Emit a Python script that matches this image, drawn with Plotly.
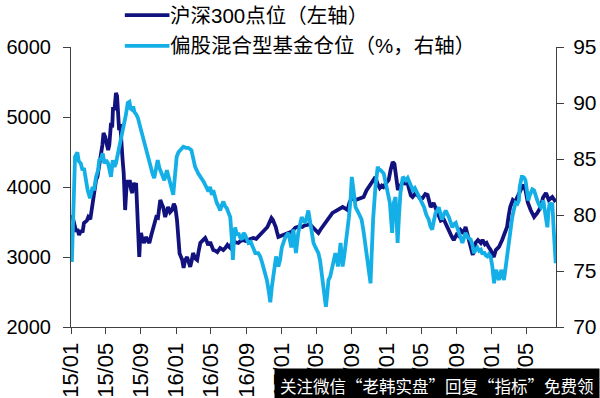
import plotly.graph_objects as go

csi_dates = ["2015-01-05","2015-01-09","2015-01-13","2015-01-19","2015-01-23","2015-01-29","2015-02-05","2015-02-10","2015-02-15","2015-02-25",
"2015-03-02","2015-03-09","2015-03-13","2015-03-18","2015-03-24","2015-03-29","2015-04-03","2015-04-09","2015-04-15","2015-04-20",
"2015-04-24","2015-04-30","2015-05-06","2015-05-10","2015-05-14","2015-05-20","2015-05-24","2015-05-27","2015-06-01","2015-06-06",
"2015-06-10","2015-06-13","2015-06-17","2015-06-21","2015-06-24","2015-06-29","2015-07-03","2015-07-08","2015-07-12","2015-07-16",
"2015-07-20","2015-07-24","2015-07-29","2015-08-02","2015-08-05","2015-08-10","2015-08-15","2015-08-19","2015-08-22","2015-08-26",
"2015-08-29","2015-09-01","2015-09-06","2015-09-12","2015-09-18","2015-09-24","2015-09-30","2015-10-06","2015-10-13","2015-10-18",
"2015-10-24","2015-10-30","2015-11-03","2015-11-07","2015-11-12","2015-11-17","2015-11-24","2015-11-30","2015-12-04","2015-12-11",
"2015-12-18","2015-12-24","2015-12-29","2016-01-04","2016-01-08","2016-01-13","2016-01-18","2016-01-22","2016-01-27","2016-02-01",
"2016-02-08","2016-02-14","2016-02-19","2016-02-24","2016-02-29","2016-03-07","2016-03-14","2016-03-20","2016-03-25","2016-04-01",
"2016-04-11","2016-04-16","2016-04-21","2016-04-28","2016-05-04","2016-05-09","2016-05-16","2016-05-23","2016-06-02","2016-06-08",
"2016-06-13","2016-06-20","2016-06-27","2016-07-01","2016-07-07","2016-07-12","2016-07-17","2016-07-25","2016-08-04","2016-08-12",
"2016-08-21","2016-08-29","2016-09-08","2016-09-16","2016-09-25","2016-10-05","2016-10-12","2016-10-20","2016-10-26","2016-11-04",
"2016-11-13","2016-11-20","2016-11-27","2016-12-02","2016-12-08","2016-12-12","2016-12-16","2016-12-21","2016-12-29","2017-01-07",
"2017-01-15","2017-01-25","2017-02-04","2017-02-11","2017-02-18","2017-02-25","2017-03-05","2017-03-14","2017-03-22","2017-04-01",
"2017-04-09","2017-04-18","2017-04-25","2017-05-01","2017-05-09","2017-05-16","2017-05-23","2017-06-01","2017-06-09","2017-06-18",
"2017-06-27","2017-07-05","2017-07-14","2017-07-22","2017-08-01","2017-08-11","2017-08-18","2017-08-25","2017-09-04","2017-09-15",
"2017-09-25","2017-10-05","2017-10-13","2017-10-23","2017-11-01","2017-11-08","2017-11-16","2017-11-23","2017-11-30","2017-12-08",
"2017-12-15","2017-12-21","2017-12-29","2018-01-08","2018-01-15","2018-01-22","2018-01-28","2018-02-02","2018-02-09","2018-02-14",
"2018-02-24","2018-03-05","2018-03-12","2018-03-18","2018-03-26","2018-04-01","2018-04-09","2018-04-18","2018-04-26","2018-05-06",
"2018-05-15","2018-05-23","2018-06-03","2018-06-13","2018-06-22","2018-06-30","2018-07-08","2018-07-18","2018-07-25","2018-08-05",
"2018-08-14","2018-08-22","2018-09-01","2018-09-08","2018-09-15","2018-09-25","2018-10-02","2018-10-13","2018-10-20","2018-10-27",
"2018-11-05","2018-11-14","2018-11-24","2018-11-30","2018-12-08","2018-12-14","2018-12-21","2018-12-28","2019-01-04","2019-01-08",
"2019-01-15","2019-01-26","2019-02-06","2019-02-15","2019-02-23","2019-03-01","2019-03-06","2019-03-15","2019-03-22","2019-03-28",
"2019-04-05","2019-04-14","2019-04-20","2019-04-28","2019-05-06","2019-05-16","2019-05-28","2019-06-08","2019-06-20","2019-06-28",
"2019-07-08","2019-07-18","2019-07-30","2019-08-11"]
csi_values = [3600,3520,3430,3360,3400,3314,3380,3350,3486,3520,
3571,3540,3650,3814,3950,4100,4150,4300,4430,4600,
4771,4714,4600,4529,4600,4914,4850,5143,5100,5343,
5300,5143,4814,4900,4629,4400,4200,3671,3950,4100,
4000,4100,3957,3914,4057,4000,4057,3700,3386,3000,
3250,3343,3250,3200,3286,3250,3200,3300,3429,3500,
3571,3560,3700,3814,3760,3714,3571,3650,3714,3640,
3671,3760,3714,3530,3200,3050,3000,2960,2843,2950,
3000,2930,2860,2950,3057,2980,2957,3100,3200,3230,
3271,3230,3171,3214,3150,3100,3090,3071,3129,3110,
3100,3130,3171,3150,3129,3200,3243,3210,3200,3230,
3243,3230,3243,3260,3271,3260,3286,3320,3343,3390,
3429,3480,3557,3529,3480,3429,3360,3286,3300,3314,
3330,3343,3360,3386,3420,3429,3440,3429,3450,3457,
3470,3429,3400,3386,3343,3390,3429,3480,3529,3580,
3629,3650,3671,3700,3714,3690,3671,3780,3857,3814,
3830,3840,3857,3950,4000,4057,4100,4143,4050,3986,
4020,4000,4050,4100,4250,4357,4330,4200,3957,4000,
4057,4050,4100,4000,3880,3857,3900,3886,3843,3843,
3900,3886,3714,3771,3680,3629,3520,3540,3486,3380,
3300,3243,3320,3300,3386,3343,3429,3243,3150,3029,
3200,3243,3200,3243,3180,3200,3143,3100,3029,3000,
3100,3143,3243,3330,3429,3600,3714,3814,3790,3830,
3900,4000,4030,3957,3780,3671,3571,3629,3714,3850,
3914,3814,3857,3786]

fund_dates = ["2015-01-04","2015-01-15","2015-01-23","2015-01-28","2015-02-04","2015-02-10","2015-02-15","2015-02-19","2015-02-28","2015-03-08",
"2015-03-17","2015-03-22","2015-03-29","2015-04-05","2015-04-09","2015-04-15","2015-04-21","2015-04-27","2015-05-03","2015-05-10",
"2015-05-15","2015-05-20","2015-05-26","2015-06-01","2015-06-06","2015-06-12","2015-06-18","2015-06-24","2015-06-29","2015-07-05",
"2015-07-11","2015-07-17","2015-07-23","2015-07-27","2015-08-01","2015-08-05","2015-08-09","2015-08-15","2015-08-21","2015-09-01",
"2015-09-07","2015-09-13","2015-09-19","2015-09-25","2015-10-01","2015-10-06","2015-10-12","2015-10-17","2015-10-23","2015-10-29",
"2015-11-04","2015-11-09","2015-11-14","2015-11-21","2015-11-30","2015-12-06","2015-12-11","2015-12-17","2015-12-22","2015-12-29",
"2016-01-03","2016-01-09","2016-01-15","2016-01-26","2016-02-04","2016-02-12","2016-02-23","2016-03-01","2016-03-07","2016-03-18",
"2016-03-30","2016-04-05","2016-04-11","2016-04-17","2016-04-22","2016-04-28","2016-05-04","2016-05-09","2016-05-15","2016-05-21",
"2016-05-27","2016-06-02","2016-06-08","2016-06-13","2016-06-19","2016-06-25","2016-07-01","2016-07-07","2016-07-12","2016-07-16",
"2016-07-20","2016-07-24","2016-07-30","2016-08-04","2016-08-10","2016-08-16","2016-08-22","2016-08-28","2016-09-03","2016-09-08",
"2016-09-16","2016-09-25","2016-10-02","2016-10-12","2016-10-19","2016-10-25","2016-10-30","2016-11-05","2016-11-11","2016-11-17",
"2016-11-23","2016-11-28","2016-12-04","2016-12-09","2016-12-13","2016-12-21","2016-12-27","2017-01-02","2017-01-08","2017-01-14",
"2017-01-25","2017-02-04","2017-02-11","2017-02-16","2017-02-20","2017-02-28","2017-03-06","2017-03-12","2017-03-18","2017-03-25",
"2017-04-04","2017-04-10","2017-04-16","2017-04-22","2017-04-29","2017-05-09","2017-05-15","2017-05-21","2017-05-28","2017-06-04",
"2017-06-09","2017-06-13","2017-06-19","2017-06-25","2017-07-01","2017-07-07","2017-07-12","2017-07-16","2017-07-25","2017-08-01",
"2017-08-06","2017-08-11","2017-08-17","2017-08-23","2017-08-29","2017-09-02","2017-09-08","2017-09-15","2017-09-25","2017-10-06",
"2017-10-13","2017-10-20","2017-10-30","2017-11-06","2017-11-10","2017-11-15","2017-11-23","2017-12-01","2017-12-06","2017-12-11",
"2017-12-22","2017-12-28","2018-01-03","2018-01-12","2018-01-20","2018-01-26","2018-02-01","2018-02-08","2018-02-13","2018-02-18",
"2018-02-26","2018-03-04","2018-03-09","2018-03-15","2018-03-21","2018-04-02","2018-04-09","2018-04-16","2018-04-22","2018-04-29",
"2018-05-05","2018-05-11","2018-05-19","2018-05-27","2018-06-02","2018-06-08","2018-06-14","2018-06-20","2018-06-26","2018-07-01",
"2018-07-06","2018-07-12","2018-07-18","2018-07-25","2018-08-05","2018-08-11","2018-08-17","2018-08-23","2018-08-29","2018-09-04",
"2018-09-09","2018-09-15","2018-09-21","2018-09-27","2018-10-02","2018-10-10","2018-10-20","2018-10-26","2018-10-31","2018-11-06",
"2018-11-12","2018-11-18","2018-11-24","2018-11-30","2018-12-05","2018-12-11","2018-12-17","2018-12-22","2018-12-28","2019-01-03",
"2019-01-09","2019-01-13","2019-01-17","2019-01-21","2019-01-26","2019-01-31","2019-02-04","2019-02-08","2019-02-12","2019-02-16",
"2019-02-20","2019-02-25","2019-03-01","2019-03-07","2019-03-13","2019-03-19","2019-03-25","2019-03-31","2019-04-05","2019-04-08",
"2019-04-11","2019-04-15","2019-04-19","2019-04-24","2019-04-28","2019-05-03","2019-05-08","2019-05-12","2019-05-16","2019-05-22",
"2019-05-28","2019-06-03","2019-06-08","2019-06-14","2019-06-20","2019-06-25","2019-06-29","2019-07-04","2019-07-08","2019-07-13",
"2019-07-17","2019-07-21","2019-07-26","2019-07-30","2019-08-04","2019-08-08","2019-08-11"]
fund_values = [75.8,85.2,85.6,84.8,84.6,84.0,84.2,83.4,82.2,81.5,
82.5,82.2,83.4,84.0,84.9,85.0,85.5,84.6,84.9,84.6,
84.0,83.4,84.9,84.3,84.6,85.3,86.1,86.7,87.5,88.2,
89.0,90.0,90.1,89.5,89.4,89.7,89.2,89.0,88.7,87.6,
87.0,86.5,86.0,85.4,84.6,84.0,83.6,83.3,84.2,84.9,
84.2,83.8,83.4,83.1,84.0,83.5,82.9,82.3,81.8,83.8,
85.2,85.6,85.8,86.1,86.0,86.0,85.8,85.0,84.3,83.7,
83.3,83.0,82.7,82.4,82.1,82.5,81.8,82.2,81.5,81.1,
80.8,80.4,80.9,81.2,80.8,80.6,80.2,79.8,78.0,76.0,
77.8,78.9,78.2,78.4,78.0,77.8,78.4,78.2,77.8,77.5,
77.6,77.1,76.6,76.6,76.3,75.8,75.4,74.9,74.2,73.3,
72.2,73.5,74.8,75.6,76.3,75.4,76.0,77.1,77.5,78.0,
78.4,77.1,78.7,77.5,76.6,78.4,79.0,79.8,79.5,79.3,
80.4,79.3,78.0,77.5,77.1,76.6,75.9,74.8,73.5,71.8,
73.0,74.2,74.5,75.1,75.8,76.6,76.0,75.4,77.5,75.4,
76.2,77.1,78.4,79.8,81.5,83.4,82.2,80.7,80.2,79.6,
78.5,77.1,75.4,73.9,76.5,79.6,82.5,84.3,84.0,84.0,
83.7,83.0,82.5,81.1,78.4,81.1,81.6,77.5,80.0,82.0,
83.4,83.2,83.1,83.3,82.9,82.2,82.4,82.0,81.6,81.3,
81.0,80.7,80.0,79.6,79.0,78.7,79.5,80.2,80.4,80.7,
80.2,79.6,80.0,80.4,79.8,79.3,78.9,79.2,79.3,78.8,
78.4,77.9,77.5,78.0,78.4,78.0,77.8,77.3,76.6,76.9,
77.1,76.8,76.9,76.5,76.7,76.4,76.3,76.5,76.3,75.4,
73.9,74.8,75.1,74.5,74.2,74.8,75.1,74.6,74.2,74.9,
75.7,76.8,78.0,79.0,79.8,80.5,81.1,81.0,81.3,82.5,
83.1,83.4,83.4,83.3,83.1,82.0,81.3,81.7,82.0,82.3,
82.2,81.6,81.3,80.9,80.7,81.0,81.3,80.4,79.6,78.9,
80.3,81.1,80.8,81.1,78.7,77.0,75.7]

tick_vals = ["2015-01-01","2015-05-01","2015-09-01","2016-01-01","2016-05-01","2016-09-01","2017-01-01",
             "2017-05-01","2017-09-01","2018-01-01","2018-05-01","2018-09-01","2019-01-01","2019-05-01"]
tick_text = ["15/01","15/05","15/09","16/01","16/05","16/09","17/01",
             "17/05","17/09","18/01","18/05","18/09","19/01","19/05"]

name_csi = "沪深300点位（左轴）"
name_fund = "偏股混合型基金仓位（%，右轴）"
watermark = "关注微信“老韩实盘”回复“指标”免费领"

DARK = "#12127f"
LIGHT = "#14afe6"
FONT = "Liberation Sans, Arial, Noto Sans CJK SC, sans-serif"
CJK = "Liberation Sans, Noto Sans CJK SC, sans-serif"

fig = go.Figure()
fig.add_trace(go.Scatter(x=csi_dates, y=csi_values, name=name_csi, mode="lines",
                         line=dict(color=DARK, width=3.8), yaxis="y"))
fig.add_trace(go.Scatter(x=fund_dates, y=fund_values, name=name_fund, mode="lines",
                         line=dict(color=LIGHT, width=3.8), yaxis="y2"))

axis_common = dict(showline=True, linecolor="#404040", linewidth=1, ticks="outside",
                   tickcolor="#404040", showgrid=False, zeroline=False, automargin=False)

# manual legend (line samples + labels) placed above the plot area
legend_rows = [(name_csi, DARK, 1.114), (name_fund, LIGHT, 1.004)]
shapes = []
annotations = []
for label, color, ypos in legend_rows:
    shapes.append(dict(type="line", xref="paper", yref="paper", x0=0.111, x1=0.203,
                       y0=ypos, y1=ypos, line=dict(color=color, width=3.8)))
    annotations.append(dict(text=label, xref="paper", yref="paper", x=0.201, y=ypos,
                            xanchor="left", yanchor="middle", showarrow=False,
                            font=dict(size=20.5, color="#000000", family=CJK)))

annotations.append(dict(text=watermark, xref="paper", yref="paper", x=1.09, y=-0.1464,
                        xanchor="right", yanchor="top", showarrow=False,
                        font=dict(size=16.5, color="white", family="Noto Sans CJK SC"),
                        bgcolor="black", borderpad=5))

fig.update_layout(
    width=600, height=398,
    margin=dict(l=71, r=44, t=47, b=71),
    paper_bgcolor="white", plot_bgcolor="white",
    font=dict(family=FONT, size=20, color="#000000"),
    showlegend=False,
    xaxis=dict(type="date", range=["2015-01-01", "2019-08-12"], tickmode="array",
               tickvals=tick_vals, ticktext=tick_text, tickangle=-90, ticklen=6,
               tickfont=dict(size=22, color="#000000", family=FONT), **axis_common),
    yaxis=dict(range=[2000, 6000], dtick=1000, tick0=2000, ticklen=7, ticklabelstandoff=8,
               tickfont=dict(size=20, color="#000000", family=FONT), **axis_common),
    yaxis2=dict(range=[70, 95], dtick=5, tick0=70, overlaying="y", side="right",
                ticklen=7, ticklabelstandoff=5,
                tickfont=dict(size=21, color="#000000", family=FONT), **axis_common),
    shapes=shapes,
    annotations=annotations,
)

fig.write_html("out.html", config={"displayModeBar": False},
               post_script="document.body.style.margin='0px';")
